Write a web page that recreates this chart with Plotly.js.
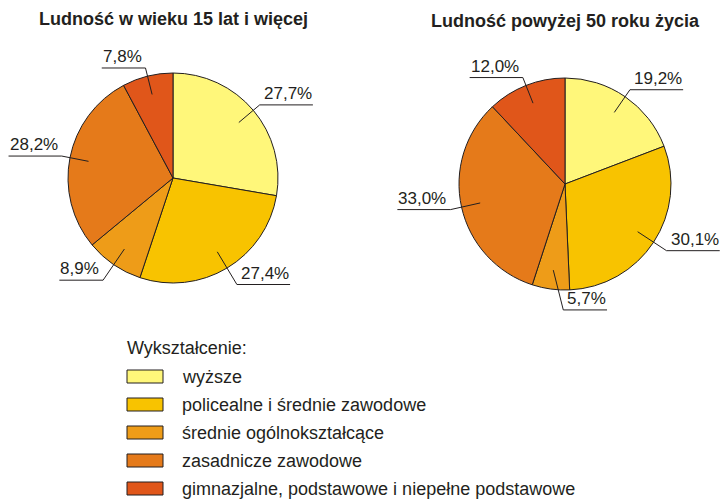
<!DOCTYPE html>
<html>
<head>
<meta charset="utf-8">
<script src="https://cdn.plot.ly/plotly-3.0.1.min.js"></script>
<style>html,body{margin:0;padding:0;background:#fff;}#chart{width:720px;height:499px;}</style>
</head>
<body>
<div id="chart"></div>
<script>
const categories = ['wyższe', 'policealne i średnie zawodowe', 'średnie ogólnokształcące', 'zasadnicze zawodowe', 'gimnazjalne, podstawowe i niepełne podstawowe'];
const values15plus = [27.7, 27.4, 8.9, 28.2, 7.8];
const values50plus = [19.2, 30.1, 5.7, 33.0, 12.0];
const pieTitles = ['Ludność w wieku 15 lat i więcej', 'Ludność powyżej 50 roku życia'];
const legendTitle = 'Wykształcenie:';
const colors = ['#FFF77A', '#F8C300', '#EE9C18', '#E57A1A', '#E0561A'];

const W = 720, H = 499;
const ink = '#231F20';
const FONT = '"Liberation Sans", Arial, sans-serif';
const px = x => x / W;
const py = y => 1 - y / H;

// pie geometry (pixels)
const pies = [
  {cx: 173, cy: 178, r: 105, values: values15plus, title: pieTitles[0], ty: 19},
  {cx: 565, cy: 184, r: 106, values: values50plus, title: pieTitles[1], ty: 21}
];

const canvas = document.createElement('canvas');
const ctx = canvas.getContext('2d');
function textWidth(t, size) { ctx.font = size + 'px ' + FONT; return ctx.measureText(t).width; }

const traces = [];
const shapes = [];
const annotations = [];

pies.forEach(p => {
  traces.push({
    type: 'pie', values: p.values, labels: categories, sort: false,
    direction: 'clockwise', rotation: 0, textinfo: 'none', hoverinfo: 'none',
    marker: {colors: colors, line: {color: ink, width: 1}},
    domain: {x: [px(p.cx - p.r), px(p.cx + p.r)], y: [py(p.cy + p.r), py(p.cy - p.r)]},
    showlegend: false
  });
  annotations.push({
    xref: 'paper', yref: 'paper', x: px(p.cx), y: py(p.ty), xanchor: 'center', yanchor: 'middle',
    text: '<b>' + p.title + '</b>', showarrow: false, font: {family: FONT, size: 18, color: ink}
  });
  let cum = 0;
  const total = p.values.reduce((a, b) => a + b, 0);
  p.values.forEach(v => {
    const ang = 2 * Math.PI * (cum + v / 2) / total;
    cum += v;
    const dx = Math.sin(ang), dy = -Math.cos(ang);
    const ix = p.cx + 0.82 * p.r * dx, iy = p.cy + 0.82 * p.r * dy;
    const k = 1.08 + 0.12 * Math.max(0, dy);
    let ox = p.cx + k * p.r * dx;
    const oy = p.cy + k * p.r * dy;
    const right = dx >= -0.2;
    if (right) ox = Math.max(ox, ix + 10);
    const label = v.toFixed(1).replace('.', ',') + '%';
    const w = textWidth(label, 17) + 5;
    const ex = right ? ox + w : ox - w;
    shapes.push({type: 'line', xref: 'paper', yref: 'paper', x0: px(ix), y0: py(iy), x1: px(ox), y1: py(oy), line: {color: ink, width: 1}});
    shapes.push({type: 'line', xref: 'paper', yref: 'paper', x0: px(ox), y0: py(oy), x1: px(ex), y1: py(oy), line: {color: ink, width: 1}});
    annotations.push({
      xref: 'paper', yref: 'paper', x: px(ex), y: py(oy - 1),
      xanchor: right ? 'right' : 'left', yanchor: 'bottom', text: label, showarrow: false,
      font: {family: FONT, size: 17, color: ink}, borderpad: 0
    });
  });
});

// custom legend
annotations.push({
  xref: 'paper', yref: 'paper', x: px(125), y: py(348), xanchor: 'left', yanchor: 'middle',
  text: legendTitle, showarrow: false, font: {family: FONT, size: 18, color: ink}
});
categories.forEach((c, i) => {
  const top = 370 + i * 28;
  shapes.push({type: 'rect', xref: 'paper', yref: 'paper', x0: px(127), x1: px(163), y0: py(top), y1: py(top + 13),
    fillcolor: colors[i], line: {color: ink, width: 1}});
  annotations.push({
    xref: 'paper', yref: 'paper', x: px(180), y: py(top + 7), xanchor: 'left', yanchor: 'middle',
    text: c, showarrow: false, font: {family: FONT, size: 18, color: ink}
  });
});

const layout = {
  width: W, height: H, margin: {l: 0, r: 0, t: 0, b: 0},
  paper_bgcolor: '#fff', plot_bgcolor: '#fff',
  shapes: shapes, annotations: annotations, showlegend: false
};
Plotly.newPlot('chart', traces, layout, {displayModeBar: false, staticPlot: true});
</script>
</body>
</html>
